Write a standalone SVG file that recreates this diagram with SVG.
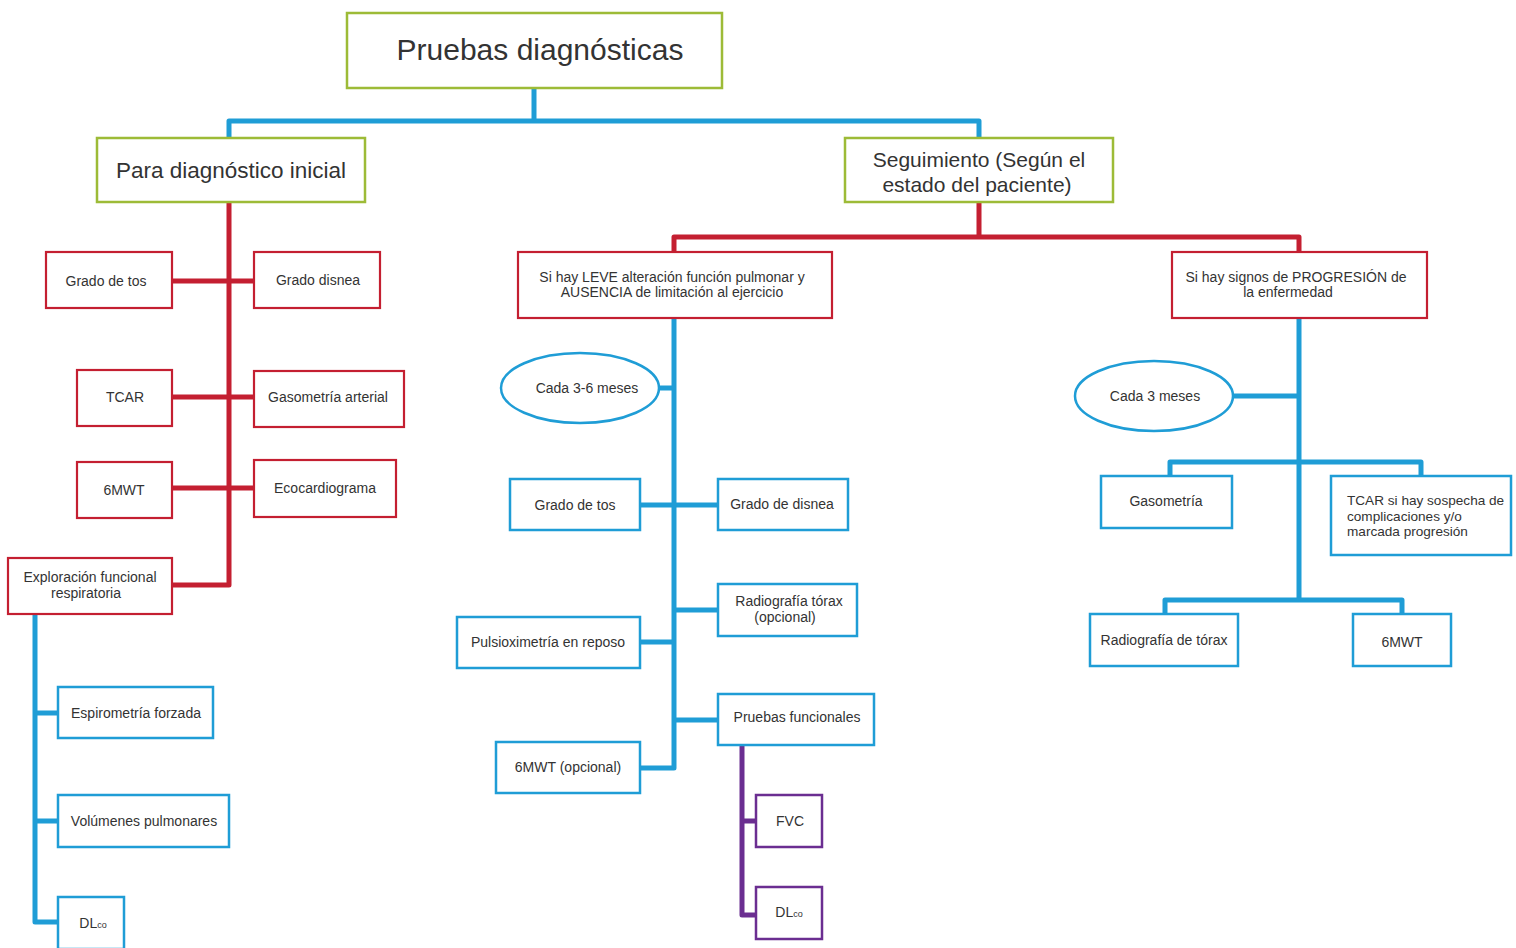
<svg xmlns="http://www.w3.org/2000/svg" width="1516" height="948" viewBox="0 0 1516 948">
  <style>
    text { font-family: "Liberation Sans", Arial, sans-serif; fill: #333333; text-anchor: middle; }
    .s { font-size: 14px; }
    .m { font-size: 21px; }
    .l { font-size: 30px; }
    .g { fill: #ffffff; stroke: #9dbb37; stroke-width: 2.5; }
    .r { fill: #ffffff; stroke: #c41f31; stroke-width: 2.2; }
    .b { fill: #ffffff; stroke: #1f9dd6; stroke-width: 2.5; }
    .p { fill: #ffffff; stroke: #6b2e91; stroke-width: 2.5; }
    .cb { fill: none; stroke: #1f9dd6; stroke-width: 5; stroke-linejoin: round; }
    .cr { fill: none; stroke: #c41f31; stroke-width: 5; stroke-linejoin: round; }
    .cp { fill: none; stroke: #6b2e91; stroke-width: 5; stroke-linejoin: round; }
    .sub { font-size: 9px; }
    .left { text-anchor: start; font-size: 13.6px; }
  </style>
  <rect width="1516" height="948" fill="#ffffff"/>

  <!-- connectors -->
  <g id="connectors">
    <!-- root to the two branches -->
    <path class="cb" d="M534 88 V121 M229 137 V121 H979 V137"/>
    <!-- initial diagnosis spine -->
    <path class="cr" d="M229 202 V585 H172 M172 281 H254 M172 397 H254 M172 488 H254"/>
    <!-- lung function branch -->
    <path class="cb" d="M35 614 V922 H58 M35 713 H58 M35 821 H58"/>
    <!-- follow-up split -->
    <path class="cr" d="M979 202 V237 M674 252 V237 H1299 V252"/>
    <!-- mild impairment spine -->
    <path class="cb" d="M674 318 V768 H640 M659 388 H674 M640 505 H718 M674 610 H718 M640 642 H674 M674 720 H718"/>
    <!-- functional tests -->
    <path class="cp" d="M742 745 V915 H756 M742 821 H756"/>
    <!-- progression spine -->
    <path class="cb" d="M1299 318 V600 M1233 396 H1299 M1170 476 V462 H1421 V476 M1165 614 V600 H1402 V614"/>
  </g>

  <g id="n-root">
    <rect class="g" x="347" y="13" width="375" height="75"/>
    <text class="l" x="540" y="60">Pruebas diagnósticas</text>
  </g>
  <g id="n-inicial">
    <rect class="g" x="97" y="138" width="268" height="64"/>
    <text class="m" x="231" y="178" style="font-size:22.5px">Para diagnóstico inicial</text>
  </g>
  <g id="n-seguimiento">
    <rect class="g" x="845" y="138" width="268" height="64"/>
    <text class="m" x="979" y="167">Seguimiento (Según el</text>
    <text class="m" x="977" y="192">estado del paciente)</text>
  </g>

  <!-- initial diagnosis -->
  <g id="n-tos1"><rect class="r" x="46" y="252" width="126" height="56"/><text class="s" x="106" y="286">Grado de tos</text></g>
  <g id="n-disnea1"><rect class="r" x="254" y="252" width="126" height="56"/><text class="s" x="318" y="285">Grado disnea</text></g>
  <g id="n-tcar1"><rect class="r" x="77" y="370" width="95" height="56"/><text class="s" x="125" y="402">TCAR</text></g>
  <g id="n-gaso1"><rect class="r" x="254" y="371" width="150" height="56"/><text class="s" x="328" y="402">Gasometría arterial</text></g>
  <g id="n-6mwt1"><rect class="r" x="77" y="462" width="95" height="56"/><text class="s" x="124" y="495">6MWT</text></g>
  <g id="n-eco"><rect class="r" x="254" y="460" width="142" height="57"/><text class="s" x="325" y="493">Ecocardiograma</text></g>
  <g id="n-efr">
    <rect class="r" x="8" y="558" width="164" height="56"/>
    <text class="s" x="90" y="582">Exploración funcional</text>
    <text class="s" x="86" y="598">respiratoria</text>
  </g>
  <g id="n-espiro"><rect class="b" x="58" y="687" width="155" height="51"/><text class="s" x="136" y="718">Espirometría forzada</text></g>
  <g id="n-volum"><rect class="b" x="58" y="795" width="171" height="52"/><text class="s" x="144" y="826">Volúmenes pulmonares</text></g>
  <g id="n-dlco1"><rect class="b" x="58" y="897" width="66" height="52"/><text class="s" x="93" y="928">DL<tspan class="sub">co</tspan></text></g>

  <!-- mild impairment follow-up -->
  <g id="n-leve">
    <rect class="r" x="518" y="252" width="314" height="66"/>
    <text class="s" x="672" y="282">Si hay LEVE alteración función pulmonar y</text>
    <text class="s" x="672" y="297">AUSENCIA de limitación al ejercicio</text>
  </g>
  <g id="n-cada36"><ellipse class="b" cx="580" cy="388" rx="79" ry="35"/><text class="s" x="587" y="393">Cada 3-6 meses</text></g>
  <g id="n-tos2"><rect class="b" x="510" y="479" width="130" height="51"/><text class="s" x="575" y="510">Grado de tos</text></g>
  <g id="n-disnea2"><rect class="b" x="718" y="479" width="130" height="51"/><text class="s" x="782" y="509">Grado de disnea</text></g>
  <g id="n-rx1">
    <rect class="b" x="718" y="584" width="139" height="52"/>
    <text class="s" x="789" y="606">Radiografía tórax</text>
    <text class="s" x="785" y="622">(opcional)</text>
  </g>
  <g id="n-pulsi"><rect class="b" x="457" y="617" width="183" height="51"/><text class="s" x="548" y="647">Pulsioximetría en reposo</text></g>
  <g id="n-pf"><rect class="b" x="718" y="694" width="156" height="51"/><text class="s" x="797" y="722">Pruebas funcionales</text></g>
  <g id="n-6mwt2"><rect class="b" x="496" y="742" width="144" height="51"/><text class="s" x="568" y="772">6MWT (opcional)</text></g>
  <g id="n-fvc"><rect class="p" x="756" y="795" width="66" height="52"/><text class="s" x="790" y="826">FVC</text></g>
  <g id="n-dlco2"><rect class="p" x="756" y="887" width="66" height="52"/><text class="s" x="789" y="917">DL<tspan class="sub">co</tspan></text></g>

  <!-- progression follow-up -->
  <g id="n-prog">
    <rect class="r" x="1172" y="252" width="255" height="66"/>
    <text class="s" x="1296" y="282">Si hay signos de PROGRESIÓN de</text>
    <text class="s" x="1288" y="297">la enfermedad</text>
  </g>
  <g id="n-cada3"><ellipse class="b" cx="1154" cy="396" rx="79" ry="35"/><text class="s" x="1155" y="401">Cada 3 meses</text></g>
  <g id="n-gaso2"><rect class="b" x="1101" y="476" width="131" height="52"/><text class="s" x="1166" y="506">Gasometría</text></g>
  <g id="n-tcar2">
    <rect class="b" x="1331" y="476" width="180" height="79"/>
    <text class="left" x="1347" y="505">TCAR si hay sospecha de</text>
    <text class="left" x="1347" y="521">complicaciones y/o</text>
    <text class="left" x="1347" y="536">marcada progresión</text>
  </g>
  <g id="n-rx2"><rect class="b" x="1090" y="614" width="148" height="52"/><text class="s" x="1164" y="645">Radiografía de tórax</text></g>
  <g id="n-6mwt3"><rect class="b" x="1353" y="614" width="98" height="52"/><text class="s" x="1402" y="647">6MWT</text></g>
</svg>
